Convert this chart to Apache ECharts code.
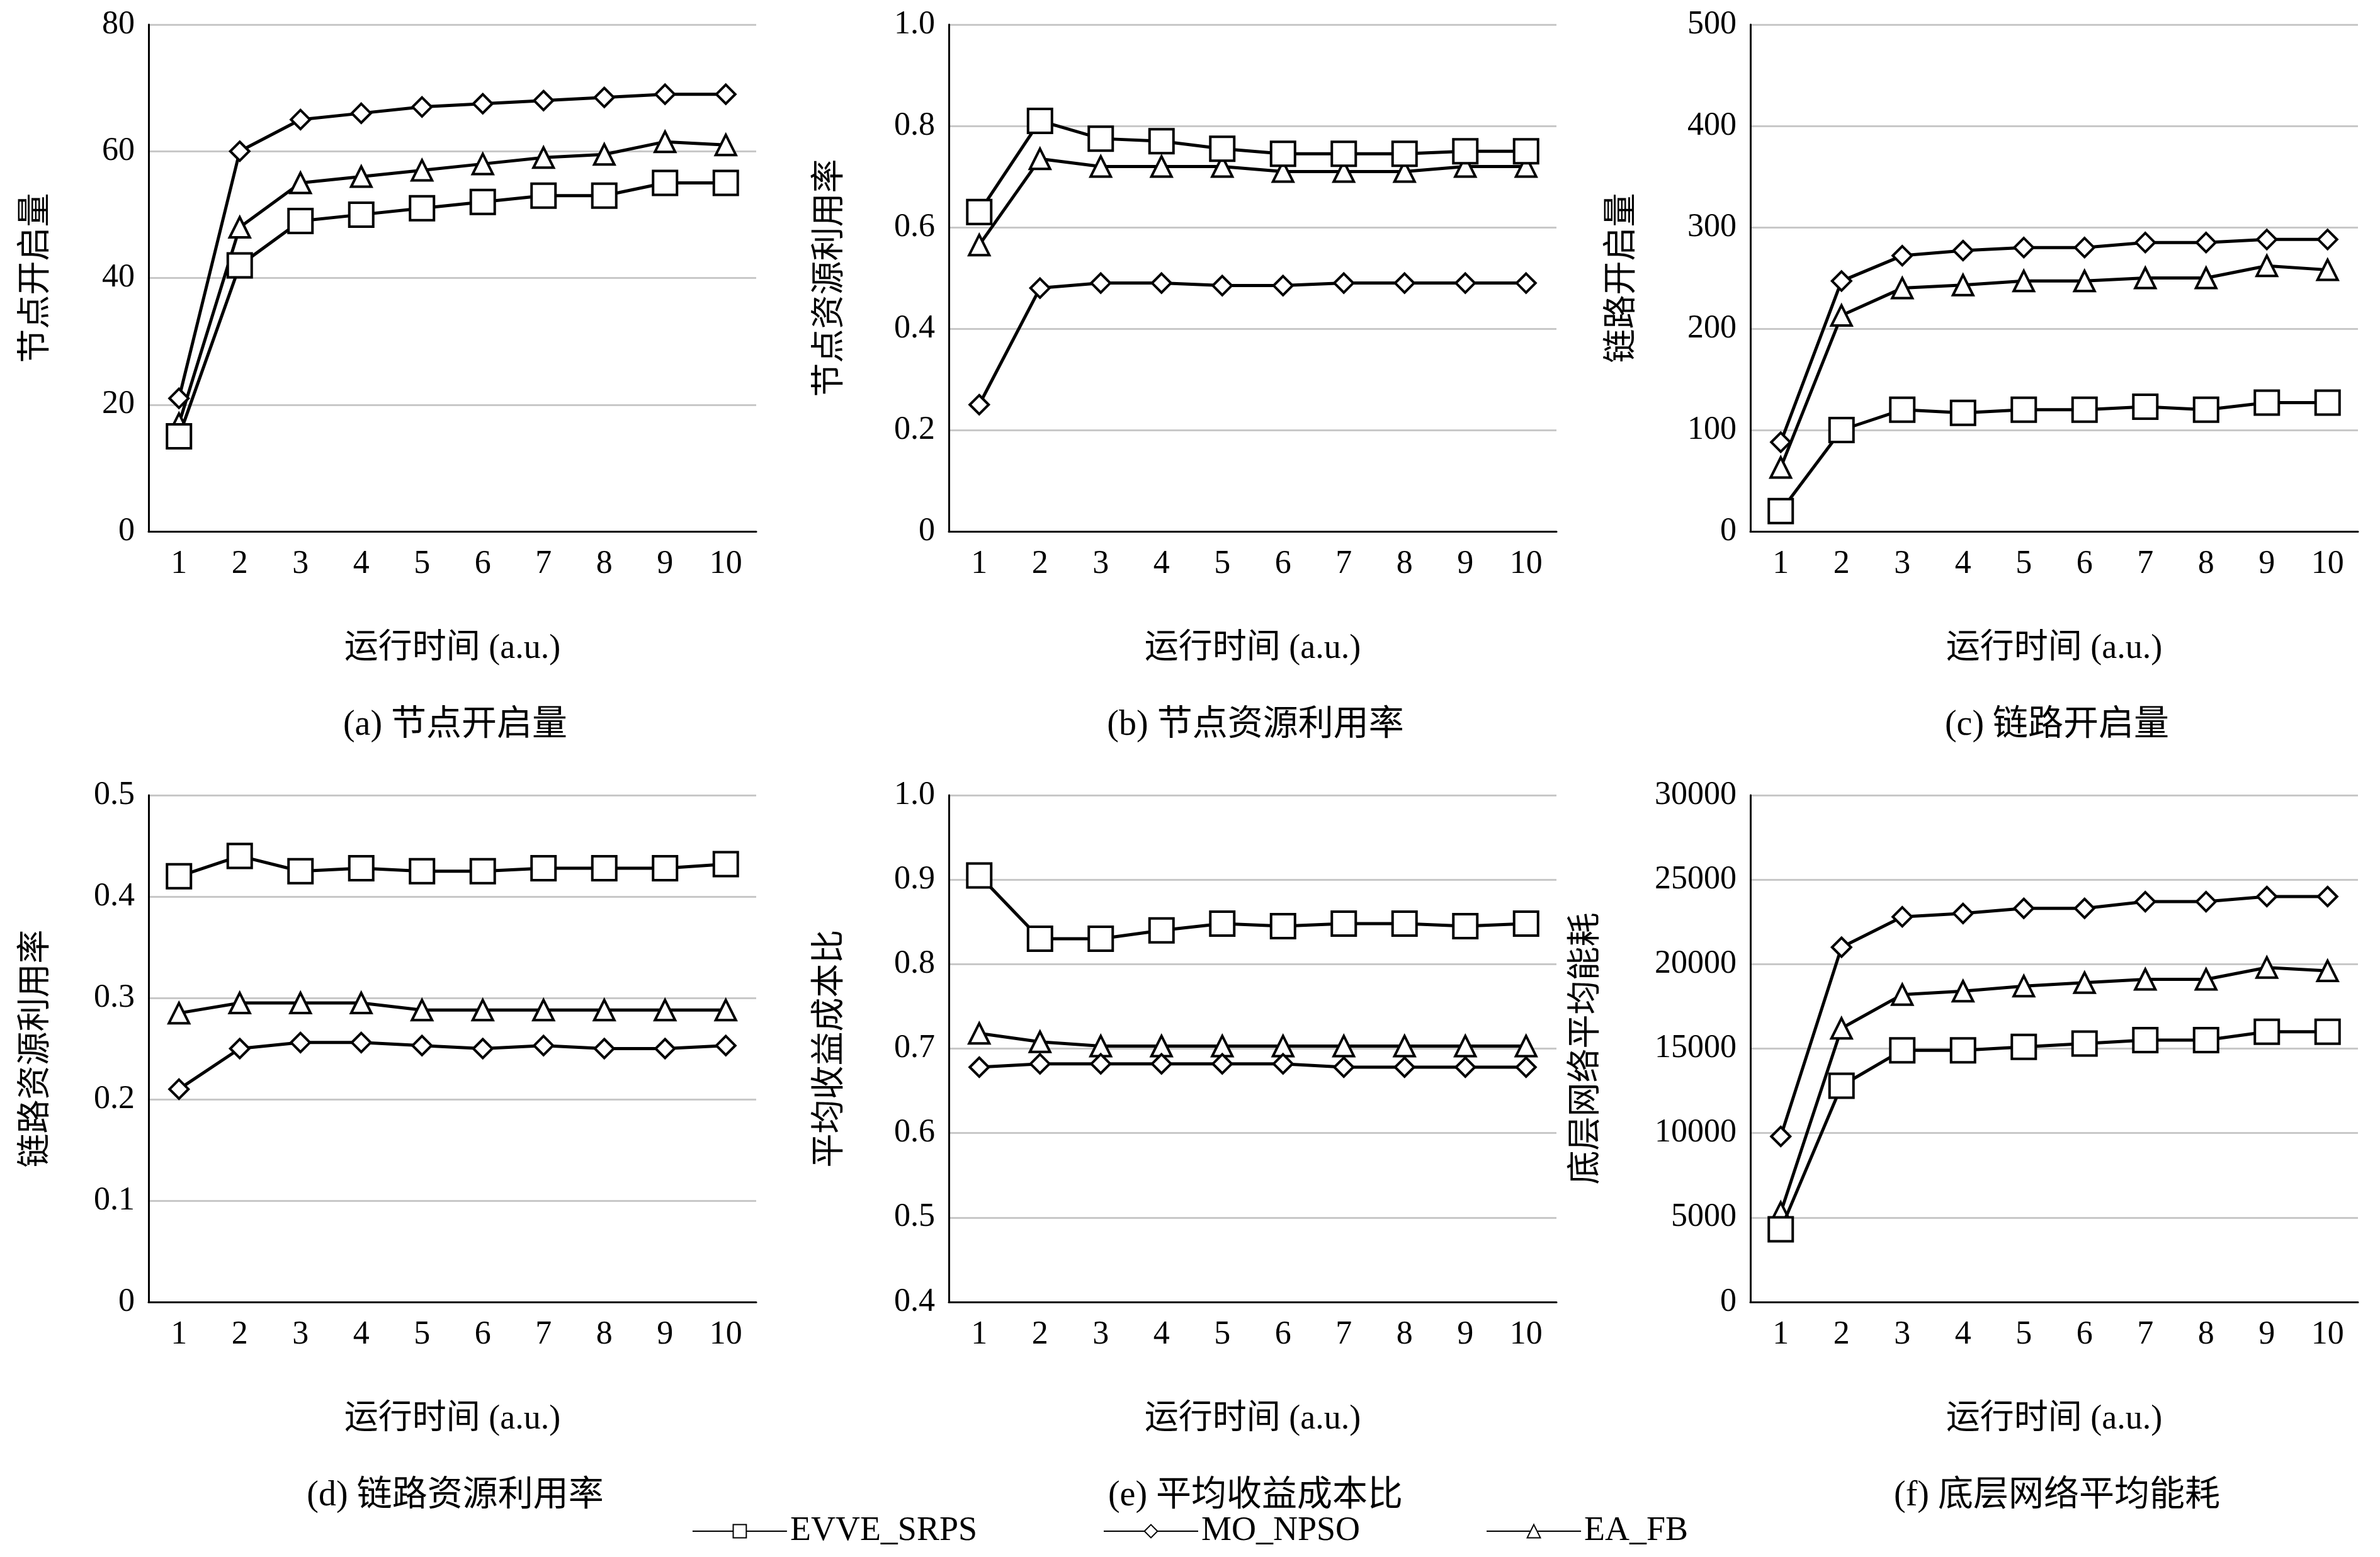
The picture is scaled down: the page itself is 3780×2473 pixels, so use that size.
<!DOCTYPE html><html><head><meta charset="utf-8">
<script src="https://cdn.jsdelivr.net/npm/echarts@6/dist/echarts.min.js"></script>
<style>body{margin:0}#c{width:3780px;height:2473px;background:#fff}</style></head><body><div id="c"></div>
<script>
const categories=['1','2','3','4','5','6','7','8','9','10'];
const names=['EVVE_SRPS','MO_NPSO','EA_FB'];
const aE=[15,42,49,50,51,52,53,53,55,55], aM=[21,60,65,66,67,67.5,68,68.5,69,69], aA=[17,48,55,56,57,58,59,59.5,61.5,61];
const bE=[.63,.81,.775,.77,.755,.745,.745,.745,.75,.75], bM=[.25,.48,.49,.49,.485,.485,.49,.49,.49,.49], bA=[.565,.735,.72,.72,.72,.71,.71,.71,.72,.72];
const cE=[20,100,120,117,120,120,123,120,127,127], cM=[88,247,272,277,280,280,285,285,288,288], cA=[63,213,240,243,247,247,250,250,262,258];
const dE=[.42,.44,.425,.428,.425,.425,.428,.428,.428,.432], dM=[.21,.25,.256,.256,.253,.25,.253,.25,.25,.253], dA=[.285,.295,.295,.295,.288,.288,.288,.288,.288,.288];
const eE=[.905,.83,.83,.84,.848,.845,.848,.848,.845,.848], eM=[.678,.682,.682,.682,.682,.682,.678,.678,.678,.678], eA=[.718,.708,.703,.703,.703,.703,.703,.703,.703,.703];
const fE=[4300,12800,14900,14900,15100,15300,15500,15500,16000,16000], fM=[9800,21000,22800,23000,23300,23300,23700,23700,24000,24000], fA=[5300,16200,18200,18400,18700,18900,19100,19100,19800,19600];
const yNames=['节点开启量','节点资源利用率','链路开启量','链路资源利用率','平均收益成本比','底层网络平均能耗'];
const captions=['(a) 节点开启量','(b) 节点资源利用率','(c) 链路开启量','(d) 链路资源利用率','(e) 平均收益成本比','(f) 底层网络平均能耗'];
const yAxes=[[0,80,20],[0,1,0.2],[0,500,100],[0,0.5,0.1],[0.4,1,0.1],[0,30000,5000]];
const dataSets=[[aE,aM,aA],[bE,bM,bA],[cE,cM,cA],[dE,dM,dA],[eE,eM,eA],[fE,fM,fA]];
const gaps=[150,160,175,150,160,232];
const F='"Liberation Serif","DejaVu Serif","Noto Sans CJK SC",serif';
const lefts=[236,1507,2780], tops=[39,1263];
const symbols=['rect','diamond','triangle'], sizes=[38,30,32];
const grid=[],xAxis=[],yAxis=[],series=[],title=[];
for(let i=0;i<6;i++){
  const l=lefts[i%3], t=tops[Math.floor(i/3)];
  grid.push({left:l,top:t,width:965,height:805});
  xAxis.push({type:'category',gridIndex:i,data:categories,boundaryGap:true,
    axisLine:{lineStyle:{color:'#000',width:3}},axisTick:{show:false},
    axisLabel:{fontFamily:F,fontSize:52,color:'#000',margin:26},
    name:'运行时间 (a.u.)',nameLocation:'middle',nameGap:160,nameTextStyle:{fontFamily:F,fontSize:54,color:'#000'}});
  const [mn,mx,iv]=yAxes[i];
  yAxis.push({type:'value',gridIndex:i,min:mn,max:mx,interval:iv,
    axisLine:{show:true,lineStyle:{color:'#000',width:3}},axisTick:{show:false},
    axisLabel:{fontFamily:F,fontSize:52,color:'#000',margin:22,formatter:v=>(iv<1?v.toFixed(1):String(v)).replace(/^0\.0$/,'0')},
    splitLine:{lineStyle:{color:'#c8c8c8',width:3}},
    name:yNames[i],nameLocation:'middle',nameGap:gaps[i],nameRotate:90,nameTextStyle:{fontFamily:F,fontSize:54,color:'#000'}});
  title.push({text:captions[i],left:l+482,top:t+1080,textAlign:'center',textStyle:{fontFamily:F,fontSize:56,fontWeight:'normal',color:'#000'}});
  for(let s=0;s<3;s++) series.push({name:names[s],type:'line',xAxisIndex:i,yAxisIndex:i,data:dataSets[i][s],
    symbol:symbols[s],symbolSize:sizes[s],showAllSymbol:true,lineStyle:{color:'#000',width:5},
    itemStyle:{color:'#fff',borderColor:'#000',borderWidth:4},z:3-s});
}
const ch=echarts.init(document.getElementById('c'));
ch.setOption({animation:false,backgroundColor:'#fff',title,grid,xAxis,yAxis,series,
  legend:{data:names,left:'center',top:2400,itemWidth:150,itemHeight:26,itemGap:200,
    textStyle:{fontFamily:F,fontSize:54,color:'#000'}}});
</script></body></html>
